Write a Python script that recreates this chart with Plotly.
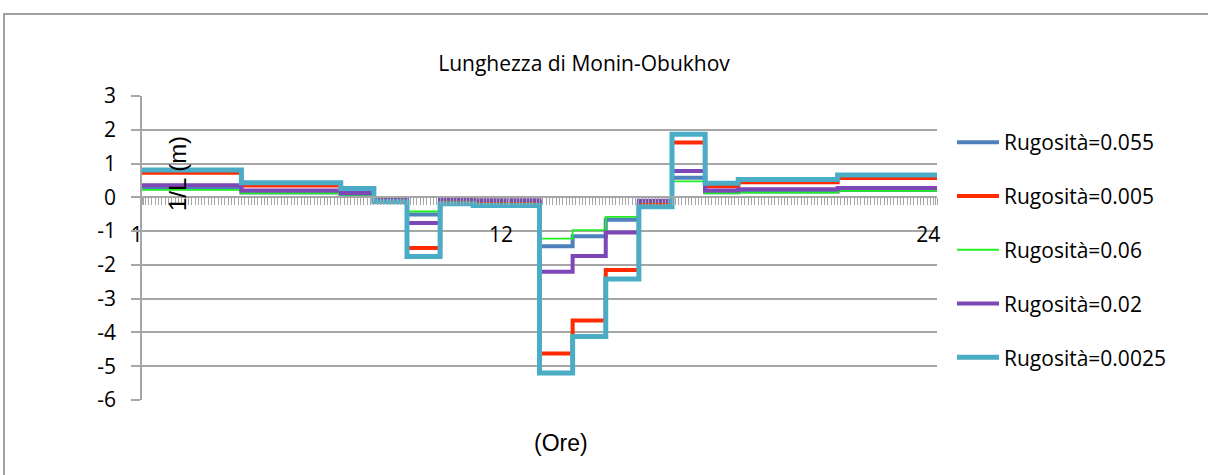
import plotly.graph_objects as go

# ---- data (hourly values, hours 1..24) ----
hours = list(range(24))
tick_positions = [0.05, 11.05, 23.95]
tick_labels = ["1", "12", "24"]
y_ticks = [3, 2, 1, 0, -1, -2, -3, -4, -5, -6]
y_tick_labels = ["3", "2", "1", "0", "-1", "-2", "-3", "-4", "-5", "-6"]

names = ["Rugosità=0.055", "Rugosità=0.005", "Rugosità=0.06", "Rugosità=0.02", "Rugosità=0.0025"]

r_0055 = [0.27, 0.27, 0.27, 0.14, 0.14, 0.14, 0.10, -0.05, -0.51, -0.08, -0.14, -0.14,
          -1.45, -1.15, -0.66, -0.15, 0.58, 0.15, 0.17, 0.17, 0.17, 0.22, 0.22, 0.22]
r_0005 = [0.73, 0.73, 0.73, 0.35, 0.35, 0.35, 0.19, -0.07, -1.50, -0.13, -0.18, -0.18,
          -4.62, -3.65, -2.15, -0.22, 1.62, 0.33, 0.45, 0.45, 0.45, 0.57, 0.57, 0.57]
r_006 = [0.22, 0.22, 0.22, 0.12, 0.12, 0.12, 0.08, -0.05, -0.42, -0.07, -0.12, -0.12,
         -1.22, -0.97, -0.58, -0.13, 0.47, 0.12, 0.14, 0.14, 0.14, 0.19, 0.19, 0.19]
r_002 = [0.36, 0.36, 0.36, 0.20, 0.20, 0.20, 0.13, -0.03, -0.76, -0.04, -0.09, -0.09,
         -2.20, -1.74, -1.04, -0.10, 0.78, 0.20, 0.24, 0.24, 0.24, 0.28, 0.28, 0.28]
r_00025 = [0.81, 0.81, 0.81, 0.43, 0.43, 0.43, 0.26, -0.13, -1.75, -0.19, -0.24, -0.24,
           -5.20, -4.12, -2.42, -0.28, 1.87, 0.42, 0.53, 0.53, 0.53, 0.66, 0.66, 0.66]

series = [r_0055, r_0005, r_006, r_002, r_00025]
colors = ["#4F81BD", "#FF2A00", "#22EE22", "#7D47B8", "#4BACC6"]
widths = [4, 4, 1.8, 4, 5]

fig = go.Figure()
x_edges = hours + [24]
for name, vals, col, w in zip(names, series, colors, widths):
    fig.add_trace(go.Scatter(
        x=x_edges, y=vals + [vals[-1]], mode="lines", name=name,
        line=dict(color=col, width=w, shape="hv"),
        legendgroup=name,
    ))

GRID = "#A6A6A6"
W, H = 1208, 475
L, R, T, B = 142, 937, 96, 400

fig.update_layout(
    width=W, height=H,
    margin=dict(l=L, r=W - R, t=T, b=H - B, pad=0),
    paper_bgcolor="white", plot_bgcolor="white",
    font=dict(family="Open Sans", size=21, color="black"),
    title=dict(text="Lunghezza di Monin-Obukhov", x=584 / W, xref="container", xanchor="center",
               y=1 - 64 / H, yref="container", yanchor="middle",
               font=dict(family="Open Sans", size=21, color="black")),
    showlegend=True,
    legend=dict(x=(952 - L) / (R - L), xanchor="left", y=1 - (122 - T) / (B - T), yanchor="top",
                traceorder="grouped", tracegroupgap=23.5, itemwidth=42,
                font=dict(family="Open Sans", size=21, color="black"),
                bgcolor="rgba(0,0,0,0)"),
    xaxis=dict(range=[0, 24], anchor="free", position=6 / 9,
               tickmode="array", tickvals=tick_positions, ticktext=tick_labels,
               ticks="outside", ticklen=7, tickcolor=GRID, tickwidth=1,
               ticklabelshift=-7, ticklabelstandoff=12,
               showline=True, linecolor=GRID, linewidth=1.5,
               showgrid=False, zeroline=False,
               minor=dict(dtick=0.1, tick0=0, ticks="outside", ticklen=7, tickcolor=GRID,
                          tickwidth=1, showgrid=False),
               tickfont=dict(family="Open Sans", size=21, color="black")),
    yaxis=dict(range=[-6, 3], tickmode="array", tickvals=y_ticks, ticktext=y_tick_labels,
               ticks="outside", ticklen=9, tickcolor=GRID, tickwidth=1.5,
               showline=True, linecolor=GRID, linewidth=1.5,
               showgrid=True, gridcolor=GRID, gridwidth=1.5, zeroline=False,
               ticklabelstandoff=11,
               tickfont=dict(family="Open Sans", size=21, color="black")),
)

# y-axis title (placed inside the plot, as in the original)
fig.add_annotation(text="1/L (m)", xref="paper", yref="paper",
                   x=(177 - L) / (R - L), y=(B - 174) / (B - T), textangle=-90,
                   xanchor="center", yanchor="middle",
                   showarrow=False, font=dict(family="Liberation Sans", size=24, color="black"))
# x-axis title
fig.add_annotation(text="(Ore)", xref="paper", yref="paper",
                   x=(561 - L) / (R - L), y=(B - 443) / (B - T),
                   xanchor="center", yanchor="middle",
                   showarrow=False, font=dict(family="Liberation Sans", size=23, color="black"))

# chart area border
fig.add_shape(type="rect", xref="paper", yref="paper",
              x0=(4 - L) / (R - L), x1=(1220 - L) / (R - L),
              y0=(B - 490) / (B - T), y1=(B - 14) / (B - T),
              line=dict(color="#A0A0A0", width=2), layer="below")

fig.write_html("out.html", config={"displayModeBar": False},
               post_script="document.body.style.margin='0px';")
